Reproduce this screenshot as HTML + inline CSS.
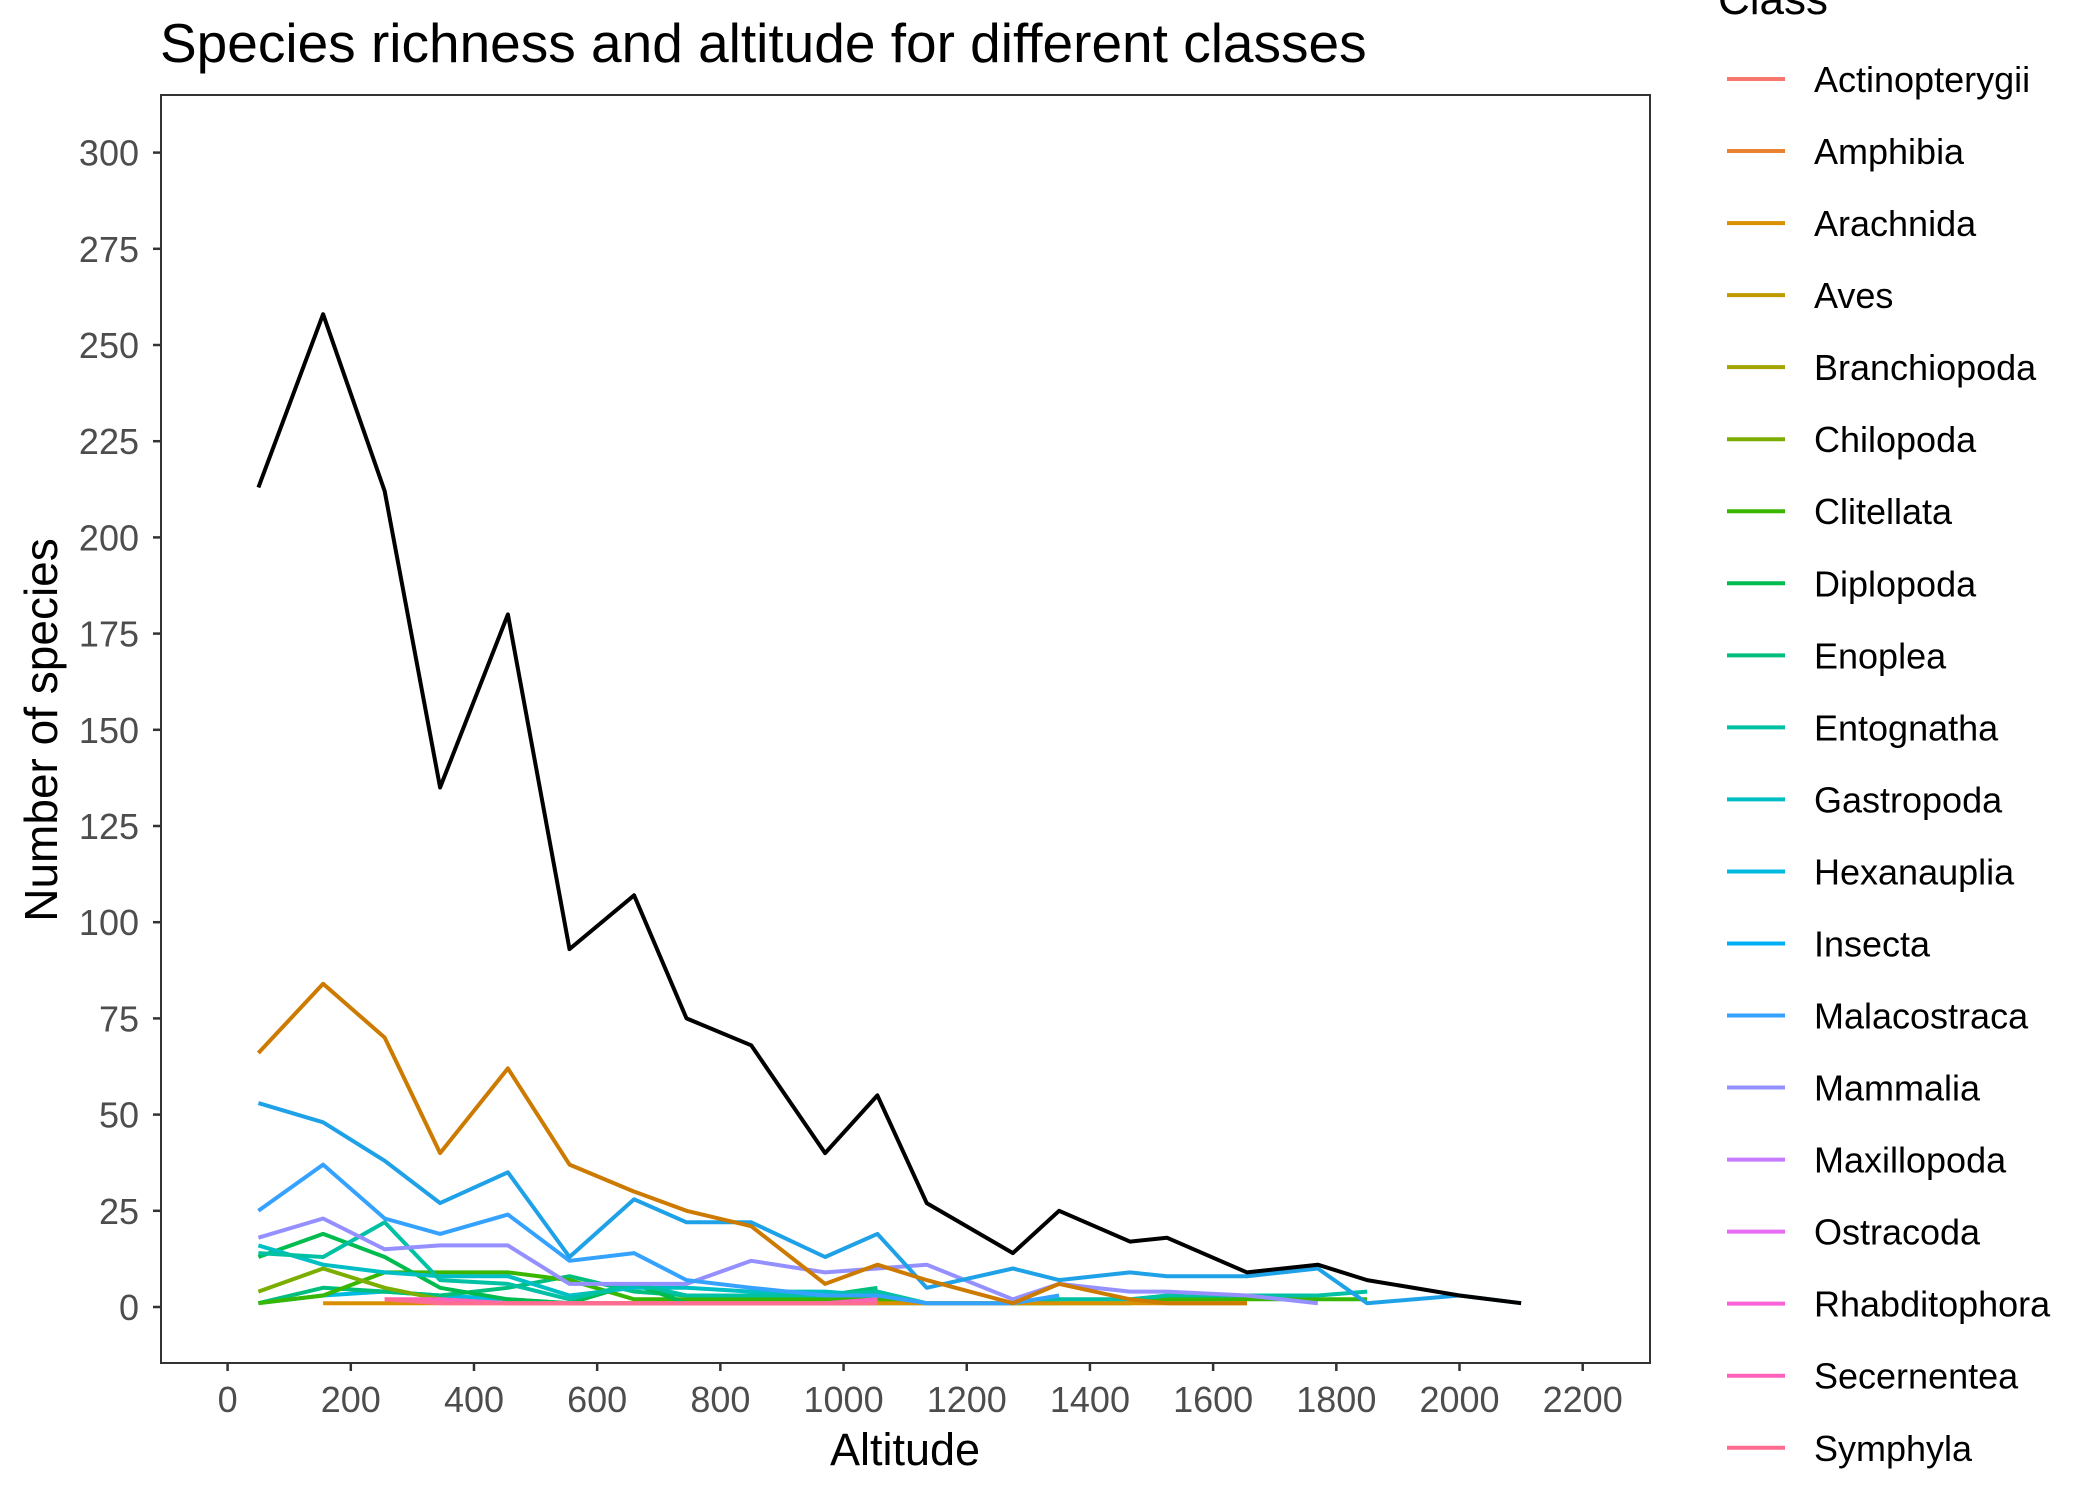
<!DOCTYPE html>
<html><head><meta charset="utf-8"><style>
html,body{margin:0;padding:0;background:#fff;}
svg{display:block;font-family:"Liberation Sans",Arial,sans-serif;}
</style></head><body>
<svg id="chart" width="2099" height="1499" viewBox="0 0 2099 1499" xmlns="http://www.w3.org/2000/svg">
<text x="160" y="62" font-size="55" fill="#000">Species richness and altitude for different classes</text>
<rect x="161" y="95" width="1489" height="1268" fill="#fff" stroke="#333" stroke-width="2"/>
<g id="marks"></g>
<g id="axes"></g>
<text x="905" y="1465" font-size="45" text-anchor="middle" fill="#000">Altitude</text>
<text transform="translate(57,730) rotate(-90)" font-size="46" text-anchor="middle" fill="#000">Number of species</text>
<g id="legend"></g>
</svg>
<script>
const altitudes = [50,155,255,345,455,555,660,745,850,970,1055,1135,1275,1350,1465,1525,1655,1770,1850,2000,2100];
const xTicks = [0,200,400,600,800,1000,1200,1400,1600,1800,2000,2200];
const yTicks = [0,25,50,75,100,125,150,175,200,225,250,275,300];
const classNames = ["Actinopterygii","Amphibia","Arachnida","Aves","Branchiopoda","Chilopoda","Clitellata","Diplopoda","Enoplea","Entognatha","Gastropoda","Hexanauplia","Insecta","Malacostraca","Mammalia","Maxillopoda","Ostracoda","Rhabditophora","Secernentea","Symphyla"];
const classColors = ["#F8766D","#EA8331","#D89000","#C09B00","#A3A500","#7CAE00","#39B600","#00BB4E","#00BF7D","#00C1A3","#00BFC4","#00BAE0","#00B0F6","#35A2FF","#9590FF","#C77CFF","#E76BF3","#FA62DB","#FF62BC","#FF6C91"];
const totalValues = [213,258,212,135,180,93,107,75,68,40,55,27,14,25,17,18,9,11,7,3,1];
const arachnidaValues = [66,84,70,40,62,37,30,25,21,6,11,7,1,6,2,1,1];
const avesValues = [null,1,1,1,1,1,1,1,1,1,1,1,1,1,1,1,1];
const chilopodaValues = [4,10,5,2,1,1,1,1,1,1,1];
const clitellataValues = [1,3,9,9,9,7,2,2,2,2,2,1,1,1,1,2,2,2,2];
const diplopodaValues = [13,19,13,5,2,1,6,1,1,1,1];
const enopleaValues = [1,5,4,3,5,8,4,3,3,3,5];
const entognathaValues = [14,13,22,7,6,2,6,3,3,3,4,1,1,2,2,3,3,3,4];
const gastropodaValues = [16,11,9,8,8,3,5,5,4,4,3];
const hexanaupliaValues = [1,3,4,3,2,1,1,1,1,1,1,1,1,1];
const insectaValues = [53,48,38,27,35,13,28,22,22,13,19,5,10,7,9,8,8,10,1,3,1];
const malacostracaValues = [25,37,23,19,24,12,14,7,5,3,3,1,1,3];
const mammaliaValues = [18,23,15,16,16,6,6,6,12,9,10,11,2,6,4,4,3,1];
const secernenteaValues = [null,null,2,2,1,1,1,1,1,1,2];
const symphylaValues = [null,null,2,1,1,1,1,1,1,1,1];

const NS="http://www.w3.org/2000/svg";
const X0=227.6, XPX=1355.1/2200, Y0=1307, YPX=3.848;
function xs(v){return X0+v*XPX;}
function ys(v){return Y0-v*YPX;}
const marks=document.getElementById('marks');
function drawSeries(vals,color,name){
  let d="";let started=false;
  vals.forEach((v,i)=>{ if(v===null||v===undefined){started=false;return;}
    d+=(started?"L":"M")+xs(altitudes[i]).toFixed(1)+","+ys(v).toFixed(1);started=true;});
  const p=document.createElementNS(NS,'path');
  p.setAttribute('d',d);p.setAttribute('fill','none');p.setAttribute('stroke',color);
  p.setAttribute('stroke-width','4');p.setAttribute('stroke-linejoin','round');
  
  
  marks.appendChild(p);
}
drawSeries(hexanaupliaValues,classColors[11],'line-hexanauplia');
drawSeries(enopleaValues,classColors[8],'line-enoplea');
drawSeries(clitellataValues,classColors[6],'line-clitellata');
drawSeries(chilopodaValues,classColors[5],'line-chilopoda');
drawSeries(diplopodaValues,classColors[7],'line-diplopoda');
drawSeries(gastropodaValues,classColors[10],'line-gastropoda');
drawSeries(entognathaValues,classColors[9],'line-entognatha');
drawSeries(avesValues,classColors[2],'line-aves');
drawSeries(secernenteaValues,classColors[18],'line-secernentea');
drawSeries(symphylaValues,classColors[19],'line-symphyla');
drawSeries(mammaliaValues,classColors[14],'line-mammalia');
drawSeries(malacostracaValues,classColors[13],'line-malacostraca');
drawSeries(insectaValues,"#1FA1E8",'line-insecta');
drawSeries(arachnidaValues,"#CC7A00",'line-arachnida');
drawSeries(totalValues,"#000000",'line-total');

const axes=document.getElementById('axes');
yTicks.forEach(t=>{
  const y=ys(t);
  const l=document.createElementNS(NS,'line');
  l.setAttribute('x1',153);l.setAttribute('x2',161);l.setAttribute('y1',y);l.setAttribute('y2',y);
  l.setAttribute('stroke','#333');l.setAttribute('stroke-width','2.5');
  
  
  axes.appendChild(l);
  const tx=document.createElementNS(NS,'text');
  tx.setAttribute('x',139);tx.setAttribute('y',y+13);tx.setAttribute('text-anchor','end');
  tx.setAttribute('font-size','36');tx.setAttribute('fill','#4d4d4d');tx.textContent=t;
  
  
  axes.appendChild(tx);
});
xTicks.forEach(t=>{
  const x=xs(t);
  const l=document.createElementNS(NS,'line');
  l.setAttribute('x1',x);l.setAttribute('x2',x);l.setAttribute('y1',1363);l.setAttribute('y2',1371);
  l.setAttribute('stroke','#333');l.setAttribute('stroke-width','2.5');
  
  
  axes.appendChild(l);
  const tx=document.createElementNS(NS,'text');
  tx.setAttribute('x',x);tx.setAttribute('y',1412);tx.setAttribute('text-anchor','middle');
  tx.setAttribute('font-size','36');tx.setAttribute('fill','#4d4d4d');tx.textContent=t;
  
  
  axes.appendChild(tx);
});

const legend=document.getElementById('legend');
const lt=document.createElementNS(NS,'text');
lt.setAttribute('x',1718);lt.setAttribute('y',14);lt.setAttribute('font-size','44');lt.textContent='Class';


legend.appendChild(lt);
classNames.forEach((n,i)=>{
  const y=79+72.04*i;
  const g=document.createElementNS(NS,'g');
  
  
  const l=document.createElementNS(NS,'line');
  l.setAttribute('x1',1727);l.setAttribute('x2',1785);l.setAttribute('y1',y);l.setAttribute('y2',y);
  l.setAttribute('stroke',classColors[i]);l.setAttribute('stroke-width','4');
  
  
  g.appendChild(l);
  const tx=document.createElementNS(NS,'text');
  tx.setAttribute('x',1814);tx.setAttribute('y',y+13);tx.setAttribute('font-size','36');tx.textContent=n;
  
  
  g.appendChild(tx);
  legend.appendChild(g);
});
</script>
</body></html>
